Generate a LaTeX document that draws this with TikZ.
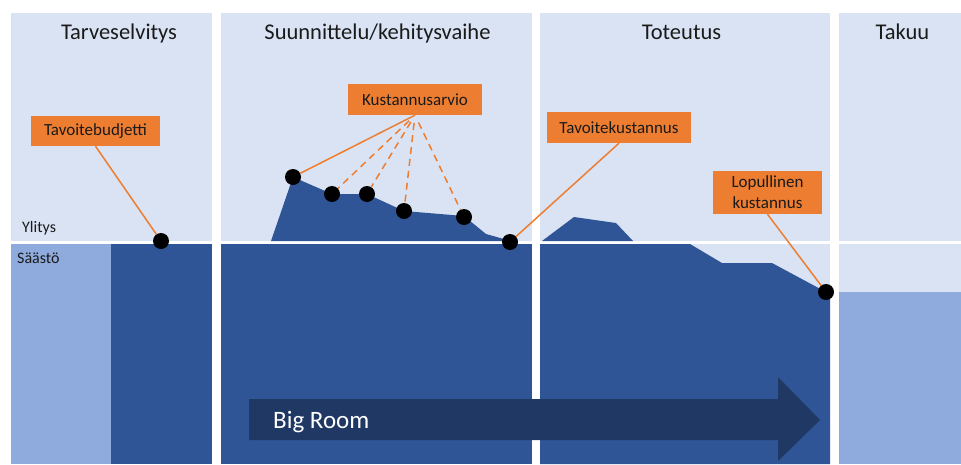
\documentclass[tikz,border=0pt]{standalone}
\usepackage{fontspec}
\setmainfont{Carlito}
\definecolor{lightbg}{HTML}{DAE3F3}
\definecolor{darkblue}{HTML}{2F5597}
\definecolor{midblue}{HTML}{8FAADC}
\definecolor{arrowblue}{HTML}{203864}
\definecolor{orangebox}{HTML}{ED7D31}
\definecolor{textgray}{HTML}{1A1A1A}
\begin{document}
\begin{tikzpicture}[x=1pt,y=-1pt,
 title/.style={font=\fontsize{22.5}{27}\selectfont, text=textgray, anchor=base, inner sep=0},
 lab/.style={fill=orangebox, text=textgray, font=\fontsize{17}{21}\selectfont, inner sep=0, align=center},
 dot/.style={circle, fill=black, minimum size=16pt, inner sep=0},
 conn/.style={draw=orangebox, line width=1.5pt},
 dconn/.style={conn, dash pattern=on 7pt off 5pt, shorten <=8pt},
 side/.style={font=\fontsize{16}{19}\selectfont, text=textgray, anchor=base west, inner sep=0}]
\useasboundingbox (0,0) rectangle (961,464);
\fill[white] (0,0) rectangle (961,464);
% panel 1
\fill[lightbg] (11,13) rectangle (212,241);
\fill[midblue] (11,244) rectangle (111,464);
\fill[darkblue] (111,244) rectangle (212,464);
% panel 2
\fill[lightbg] (220.5,13) rectangle (531.5,241);
\fill[darkblue] (220.5,244) rectangle (531.5,464);
\fill[darkblue] (271,241) -- (293,177) -- (332,194) -- (367,194) -- (404,211) -- (464,216) -- (486,234) -- (511,241) -- cycle;
% panel 3
\fill[lightbg] (540,13) rectangle (830,241);
\fill[lightbg] (540,244) rectangle (830,464);
\fill[darkblue] (540,244) -- (690,244) -- (722,263) -- (772,263) -- (826,292) -- (830,294) -- (830,464) -- (540,464) -- cycle;
\fill[darkblue] (542,241) -- (574,217) -- (616,223) -- (633,241) -- cycle;
% panel 4
\fill[lightbg] (839,13) rectangle (961,241);
\fill[lightbg] (839,244) rectangle (961,292);
\fill[midblue] (839,292) rectangle (961,464);
% arrow
\fill[arrowblue] (249,399) -- (778,399) -- (778,377) -- (820,420) -- (778,461) -- (778,440) -- (249,440) -- cycle;
\node[anchor=base west, inner sep=0, text=white, font=\fontsize{25}{30}\selectfont] (br) at (273,428) {Big Room};
% titles
\node[title] (t1) at (119,39) {Tarveselvitys};
\node[title] (t2) at (377.5,39) {Suunnittelu/kehitysvaihe};
\node[title] (t3) at (681.5,39) {Toteutus};
\node[title] (t4) at (902.5,39) {Takuu};
\node[side] (yl) at (22,232) {Ylitys};
\node[side] (sa) at (17,263) {Säästö};
% labels
\node[lab, minimum width=129pt, minimum height=30pt] (tb) at (95.5,131) {Tavoitebudjetti};
\node[lab, minimum width=134pt, minimum height=31pt] (ka) at (415,99.5) {Kustannusarvio};
\node[lab, minimum width=144pt, minimum height=31pt] (tk) at (619,127.5) {Tavoitekustannus};
\node[lab, minimum width=109pt, minimum height=43pt] (lk) at (767.5,192.5) {Lopullinen\\kustannus};
% dots
\node[dot] (d0) at (161,241) {};
\node[dot] (k1) at (293,177) {};
\node[dot] (k2) at (332,194) {};
\node[dot] (k3) at (367,194) {};
\node[dot] (k4) at (404,211) {};
\node[dot] (k5) at (464,217) {};
\node[dot] (d6) at (510,242) {};
\node[dot] (d7) at (826,292) {};
% connectors
\draw[conn] (tb.south) -- (d0);
\draw[conn] (ka.south) -- (k1);
\draw[dconn] (ka.south) -- (k2);
\draw[dconn] (ka.south) -- (k3);
\draw[dconn] (ka.south) -- (k4);
\draw[dconn] (ka.south) -- (k5);
\draw[conn] (tk.south) -- (d6);
\draw[conn] (lk.south) -- (d7);
\end{tikzpicture}
\end{document}
